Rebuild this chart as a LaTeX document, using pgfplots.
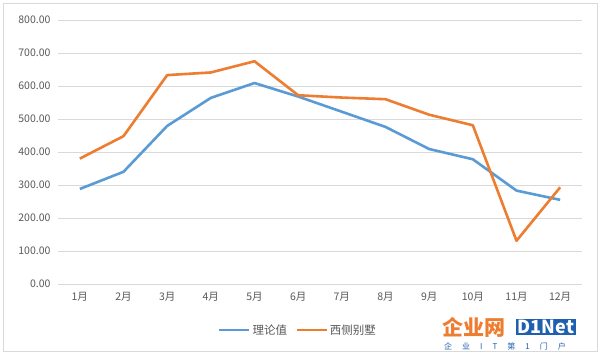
\documentclass[border=0pt]{standalone}
\usepackage{pgfplots}
\pgfplotsset{compat=1.18}
\usepackage{fontspec}
\setmainfont{Noto Sans CJK SC}
\definecolor{xblue}{HTML}{5B9BD5}
\definecolor{xorange}{HTML}{ED7D31}
\definecolor{xgrid}{HTML}{D9D9D9}
\definecolor{xtext}{HTML}{595959}
\definecolor{dblue}{HTML}{1F5FAF}
\begin{document}
\begin{tikzpicture}
\useasboundingbox (0pt,0pt) rectangle (600pt,355pt);
\path[fill=white] (0pt,0pt) rectangle (600pt,355pt);
\draw[xgrid, line width=1pt] (3pt,3pt) rectangle (597pt,351pt);
\begin{axis}[
  at={(58pt,71pt)}, anchor=south west, scale only axis,
  width=524pt, height=264pt,
  xmin=0.5, xmax=12.5, ymin=0, ymax=800,
  ytick={0,100,...,800}, xtick={1,...,12},
  xticklabels={1月,2月,3月,4月,5月,6月,7月,8月,9月,10月,11月,12月},
  axis line style={draw=none}, tick style={draw=none},
  ymajorgrids, grid style={xgrid, line width=0.8pt},
  /pgf/number format/assume math mode=true,
  ticklabel style={font=\fontsize{10.5}{12}\selectfont, text=xtext},
  yticklabel style={/pgf/number format/fixed, /pgf/number format/fixed zerofill, /pgf/number format/precision=2, xshift=-4pt},
  xticklabel style={yshift=-5pt},
  legend style={at={(0.458,-0.174)}, anchor=center, draw=none, fill=none,
    legend columns=2, font=\fontsize{11.5}{13}\selectfont, text=xtext,
    /tikz/every even column/.append style={column sep=6pt}},
  legend image code/.code={\draw[#1, line width=2.6pt] (0pt,0pt) -- (30pt,0pt);},
]
\addplot[xblue, line width=2.6pt, line join=round, no marks] coordinates {
(1,288) (2,340) (3,479) (4,564) (5,609) (6,568) (7,522) (8,476) (9,409) (10,378) (11,283) (12,255)};
\addlegendentry{理论值}
\addplot[xorange, line width=2.6pt, line join=round, no marks] coordinates {
(1,380) (2,448) (3,633) (4,641) (5,675) (6,572) (7,565) (8,560) (9,513) (10,481) (11,131) (12,293)};
\addlegendentry{西侧别墅}
\end{axis}
\node[anchor=west, text=xorange, font=\bfseries\fontsize{21}{21}\selectfont, inner sep=0pt] at (442pt,28pt) {企业网};
\node[anchor=west, fill=dblue, text=white, font=\bfseries\fontsize{18}{18}\selectfont, inner sep=1.5pt] at (516pt,28pt) {D1Net};
\node[anchor=west, text=dblue, font=\fontsize{8}{8}\selectfont, inner sep=0pt] at (444pt,9pt) {企\hspace{10pt}业\hspace{10pt}I\hspace{10pt}T\hspace{10pt}第\hspace{10pt}1\hspace{10pt}门\hspace{10pt}户};
\end{tikzpicture}
\end{document}
